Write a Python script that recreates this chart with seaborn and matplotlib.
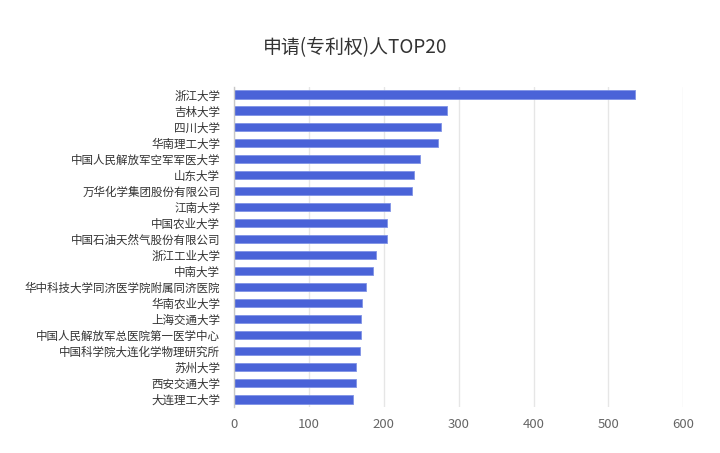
import matplotlib
matplotlib.use("Agg")
import matplotlib.pyplot as plt
import seaborn as sns
import pandas as pd
import numpy as np

categories = ["浙江大学", "吉林大学", "四川大学", "华南理工大学", "中国人民解放军空军军医大学",
              "山东大学", "万华化学集团股份有限公司", "江南大学", "中国农业大学", "中国石油天然气股份有限公司",
              "浙江工业大学", "中南大学", "华中科技大学同济医学院附属同济医院", "华南农业大学", "上海交通大学",
              "中国人民解放军总医院第一医学中心", "中国科学院大连化学物理研究所", "苏州大学", "西安交通大学", "大连理工大学"]
values = [535, 284, 277, 272, 248, 240, 238, 209, 204, 204,
          189, 186, 176, 171, 170, 170, 168, 163, 163, 159]
xticks = [0, 100, 200, 300, 400, 500, 600]
title = "申请(专利权)人TOP20"

sns.set_theme(style="white")
plt.rcParams['font.family'] = ['Noto Sans CJK SC', 'DejaVu Sans']

df = pd.DataFrame({"name": categories, "count": values})

fig = plt.figure(figsize=(7.2, 4.53), dpi=100)
ax = fig.add_axes([0.325, 0.1015, 0.624, 0.7065])
sns.barplot(data=df, x="count", y="name", orient="h", color="#4a63d8",
            width=0.56, ax=ax, saturation=1, edgecolor="#7f93e6", linewidth=0.6)

ax.set_xlim(0, 600)
ax.set_ylim(len(categories) - 0.5, -0.5)
ax.set_xticks(xticks)
ax.set_xticklabels([str(t) for t in xticks])
ax.xaxis.grid(True, color="#e6e6e6", linewidth=1)
ax.set_axisbelow(True)
ax.set_xlabel("")
ax.set_ylabel("")

for s in ["top", "right", "bottom"]:
    ax.spines[s].set_visible(False)
ax.spines["left"].set_color("#c8c8c8")
ax.spines["left"].set_linewidth(1)

ax.tick_params(axis="y", length=0, labelsize=8.3, labelcolor="#333333", pad=10)
ax.tick_params(axis="x", length=0, labelsize=9.5, labelcolor="#666666", pad=8)
ax.set_yticks(np.arange(-0.5, len(categories), 1), minor=True)
ax.tick_params(axis="y", which="minor", length=5, color="#c8c8c8", width=1, direction="out")

fig.text(0.493, 0.895, title, ha="center", va="center", fontsize=13.6, color="#333333")

fig.savefig("out.png", dpi=100)
